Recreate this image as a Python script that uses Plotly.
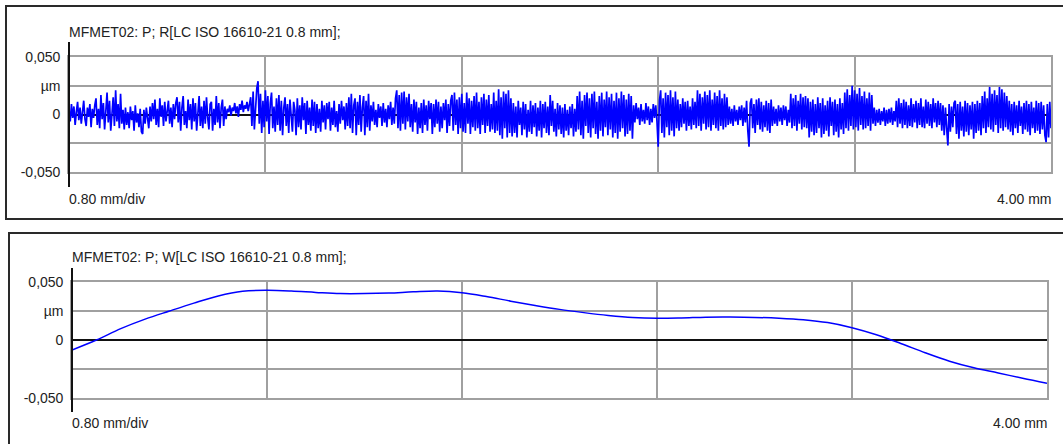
import numpy as np
import plotly.graph_objects as go

W, H = 1063, 444

# ---------------- data ----------------
r_title = "MFMET02: P; R[LC ISO 16610-21 0.8 mm];"
w_title = "MFMET02: P; W[LC ISO 16610-21 0.8 mm];"
x_div_label = "0.80 mm/div"
x_end_label = "4.00 mm"
y_tick_vals = [-0.05, -0.025, 0, 0.025, 0.05]
y_tick_text = ["-0,050", "", "0", "µm", "0,050"]
x_grid_vals = [0.8, 1.6, 2.4, 3.2]

# R profile, sampled every 0.005 mm from 0 to 4.00 mm, values in nm
r_profile_nm = [
    4, -6, 9, -3, 7, -9, 2, 11, -5, 6,
    -8, 3, 12, -4, -10, 6, -2, 9, -11, 5,
    -3, 8, 14, -9, 5, -12, 17, -4, 10, -13,
    6, 19, -7, 12, -14, 3, 15, -10, 21, -6,
    9, -12, 18, -8, 4, -13, 6, -9, 2, -12,
    7, -5, 3, -14, 8, -7, 1, -11, 5, -15,
    -17, 4, -8, 6, -3, -12, 7, -6, 10, -4,
    13, -9, 5, -11, 14, -2, 8, -10, 11, -6,
    3, 12, -8, 6, -11, 9, -4, 10, 15, -7,
    11, -14, 6, 16, -9, 3, -12, 13, -5, 9,
    -13, 14, -6, 10, -14, 4, 16, -10, 7, -12,
    12, -8, 15, -3, -13, 9, 11, -14, 5, -9,
    16, -7, 10, -12, 6, 13, -10, 7, -4, 5,
    2, 8, -1, 6, 3, 10, 1, 7, -2, 9,
    4, 12, 2, 8, 5, 11, 3, 9, 15, -10,
    20, -13, 8, 23, 29, -8, 18, -16, 12, -11,
    21, -6, 16, -17, 10, 19, -12, 7, -15, 14,
    -9, 17, -14, 12, -18, 6, 15, -10, 9, -16,
    13, -7, -15, 11, 4, -18, 14, -11, 8, -13,
    15, -5, 10, -17, 12, -9, 6, -14, 13, -10,
    11, -16, 9, -12, 5, -15, 12, -7, 8, -13,
    10, -4, 11, -14, 6, -9, 12, -11, 3, -15,
    9, -8, 12, -5, 7, -13, 10, -10, 15, -12,
    18, -16, 8, 14, -18, 11, -9, 17, -15, 6,
    16, -18, 12, -11, 18, -14, 8, -6, 11, -9,
    4, -11, 9, -3, 7, -10, 10, -7, 5, -11,
    8, -4, 11, -9, 6, -8, 14, 21, -12, 17,
    -14, 19, -8, 20, -13, 15, -6, 18, -11, 9,
    -15, 13, -7, 11, -17, 6, -12, 10, -16, 13,
    -9, 8, -14, 12, -4, 10, -17, 9, -11, 13,
    -8, 11, -15, 7, -12, 10, -5, 13, -16, 9,
    -10, 12, 17, -14, 19, -9, 13, -17, 15, -12,
    18, -15, 10, -16, 19, -8, 14, -17, 12, -11,
    16, -14, 19, -12, 11, -17, 15, -9, 18, -16,
    13, -10, 17, -15, 9, -13, 19, -16, 12, -14,
    22, -18, 15, -21, 20, -12, 18, -20, 21, -16,
    14, -19, 10, -16, 7, -20, 12, -9, 6, -18,
    11, -13, 9, -20, 4, -15, 12, -17, 8, -11,
    10, -19, 6, -14, 12, -20, 9, -12, 11, -16,
    7, -18, 17, -10, 12, -15, 5, -19, 10, -13,
    8, -17, 6, -20, 9, -14, 4, -18, 7, -12,
    9, -19, 5, -15, 16, -13, 20, -18, 12, -21,
    17, -10, 19, -16, 14, -20, 18, -12, 20, -17,
    11, -21, 16, -14, 19, -19, 13, -11, 20, -18,
    15, -13, 18, -20, 12, -16, 19, -21, 14, -15,
    20, -12, 17, -19, 13, -17, 18, -14, 16, -21,
    8, -7, 10, -4, 6, -9, 9, -6, 4, -8,
    10, -5, 7, -9, 5, -7, 9, -3, 8, -6,
    -28, 12, 21, -16, 14, -20, 19, -11, 17, -18,
    21, -14, 15, -19, 20, -12, 13, -14, 9, -11,
    14, -8, 11, -14, 12, -10, 7, -13, 14, -9,
    11, -12, 21, -10, 18, -14, 15, -8, 20, -13,
    17, -11, 21, -14, 13, -9, 19, -12, 16, -14,
    21, -10, 14, -13, 18, -11, 15, -9, 7, -8,
    5, -10, 8, -6, 4, -9, 7, -5, 8, -10,
    6, -7, 12, -14, -28, 10, 14, -12, 9, -16,
    13, -9, 14, -13, 11, -15, 8, -11, 12, -14,
    10, -16, 13, -10, 7, -8, 5, -10, 8, -6,
    6, -9, 8, -5, 7, -10, 4, -7, 18, -12,
    14, -10, 17, -14, 12, -8, 18, -13, 15, -11,
    16, -12, 14, -20, 11, -15, 13, -18, 9, -16,
    15, -12, 10, -20, 14, -17, 8, -14, 12, -19,
    15, -10, 11, -18, 13, -15, 9, -20, 14, -13,
    10, -17, 19, -12, 22, -14, 17, -10, 25, -13,
    21, -11, 18, -14, 23, -9, 16, -13, 20, -12,
    14, -10, 19, -14, 17, -8, 6, -10, 4, -7,
    5, -9, 3, -6, 6, -10, 4, -8, 5, -7,
    6, -9, 3, -6, 12, -11, 14, -8, 10, -12,
    13, -9, 11, -12, 8, -10, 14, -11, 9, -7,
    12, -12, 10, -9, 14, -11, 7, -12, 13, -8,
    11, -10, 9, -12, 14, -7, 10, -11, 12, -9,
    10, -14, 8, -18, 6, -12, -27, 9, -15, 7,
    -11, 10, 12, -17, 9, -21, 11, -14, 7, -19,
    12, -15, 10, -18, 8, -13, 11, -21, 9, -16,
    12, -14, 10, -18, 16, -12, 20, -16, 14, -11,
    24, -13, 18, -15, 21, -9, 17, -16, 24, -12,
    22, -14, 19, -11, 16, -13, 12, -15, 9, -18,
    11, -12, 8, -16, 12, -10, 7, -17, 10, -13,
    12, -15, 9, -18, 11, -12, 6, -16, 12, -14,
    10, -17, 11, -13, 8, -18, -24, 9, -20, 11,
    -12,
]
r_x_mm = np.round(np.arange(len(r_profile_nm)) * 0.005, 3)
r_y_um = np.array(r_profile_nm) / 1000.0

# W profile (waviness), sampled every 0.1 mm, values in µm
w_x_mm = [round(i * 0.1, 1) for i in range(41)]
w_y_um = [
    -0.0086, 0.0000, 0.0098, 0.0180, 0.0250, 0.0318, 0.0380, 0.0420, 0.0428, 0.0422,
    0.0410, 0.0400, 0.0400, 0.0405, 0.0415, 0.0422, 0.0408, 0.0375, 0.0335, 0.0298,
    0.0264, 0.0236, 0.0212, 0.0194, 0.0187, 0.0190, 0.0197, 0.0198, 0.0195, 0.0188,
    0.0175, 0.0150, 0.0106, 0.0045, -0.0030, -0.0110, -0.0183, -0.0240, -0.0284, -0.0330,
    -0.0373,
]

# ---------------- layout helpers ----------------
def px(x):
    return x / W

def py(y):
    return 1 - y / H

FONT = "Liberation Sans, Arial, sans-serif"
TXT = "#222222"
GRID = "#a0a0a0"
BLUE = "#0000ff"

fig = go.Figure()
fig.add_trace(go.Scatter(x=r_x_mm, y=r_y_um, mode="lines",
                         line=dict(color=BLUE, width=1.7),
                         xaxis="x", yaxis="y", showlegend=False, hoverinfo="skip"))
fig.add_trace(go.Scatter(x=w_x_mm, y=w_y_um, mode="lines",
                         line=dict(color=BLUE, width=1.5, shape="spline", smoothing=1.0),
                         xaxis="x2", yaxis="y2", showlegend=False, hoverinfo="skip"))

panels = [
    dict(l=69, r=1051, t=57, b=172, at=42, ab=187),
    dict(l=72, r=1047, t=282, b=398, at=268, ab=412),
]

def xaxis_cfg(p):
    return dict(domain=[px(p["l"]), px(p["r"])], range=[0, 4], tickvals=x_grid_vals,
                showticklabels=False, ticks="", showgrid=True, gridcolor=GRID, gridwidth=1.6,
                showline=True, mirror=True, linecolor=GRID, linewidth=1.6, zeroline=False,
                automargin=False, fixedrange=True)

def yaxis_cfg(p, anchor):
    return dict(domain=[py(p["b"]), py(p["t"])], range=[-0.05, 0.05], tickvals=y_tick_vals,
                ticktext=y_tick_text, ticks="", showgrid=True, gridcolor=GRID, gridwidth=1.6,
                showline=True, mirror=True, linecolor=GRID, linewidth=1.6,
                zeroline=True, zerolinecolor="#111111", zerolinewidth=1.5,
                tickfont=dict(family=FONT, size=14, color=TXT), ticklabelstandoff=4,
                automargin=False, anchor=anchor, fixedrange=True)

shapes = []
shapes.append(dict(type="rect", xref="paper", yref="paper", x0=px(6), x1=1.0 + 6 / W,
                   y0=py(219), y1=py(6), line=dict(color="#2a2a2a", width=2)))
shapes.append(dict(type="rect", xref="paper", yref="paper", x0=px(9), x1=1.0 + 6 / W,
                   y0=-6 / H, y1=py(233), line=dict(color="#2a2a2a", width=2)))
for p in panels:
    shapes.append(dict(type="line", xref="paper", yref="paper", x0=px(p["l"]), x1=px(p["l"]),
                       y0=py(p["ab"]), y1=py(p["at"]), line=dict(color="#111111", width=2)))

annotations = []
for p, title, ty, ly in [(panels[0], r_title, 32, 199), (panels[1], w_title, 257, 423)]:
    annotations.append(dict(text=title, xref="paper", yref="paper", x=px(p["l"] - 2), y=py(ty),
                            xanchor="left", yanchor="middle", showarrow=False,
                            font=dict(family=FONT, size=14, color=TXT)))
    annotations.append(dict(text=x_div_label, xref="paper", yref="paper", x=px(p["l"] - 2), y=py(ly),
                            xanchor="left", yanchor="middle", showarrow=False,
                            font=dict(family=FONT, size=14, color=TXT)))
    annotations.append(dict(text=x_end_label, xref="paper", yref="paper", x=px(p["r"] + 2), y=py(ly),
                            xanchor="right", yanchor="middle", showarrow=False,
                            font=dict(family=FONT, size=14, color=TXT)))

fig.update_layout(
    width=W, height=H, autosize=False,
    margin=dict(l=0, r=0, t=0, b=0, pad=0, autoexpand=False),
    paper_bgcolor="white", plot_bgcolor="white",
    xaxis=xaxis_cfg(panels[0]), yaxis=yaxis_cfg(panels[0], "x"),
    xaxis2=xaxis_cfg(panels[1]) | dict(anchor="y2"), yaxis2=yaxis_cfg(panels[1], "x2"),
    shapes=shapes, annotations=annotations, showlegend=False,
)

fig.write_html(
    "out.html",
    config={"displayModeBar": False},
    post_script="document.documentElement.style.margin='0';document.body.style.margin='0';"
                "document.body.style.padding='0';document.body.style.overflow='hidden';",
)
